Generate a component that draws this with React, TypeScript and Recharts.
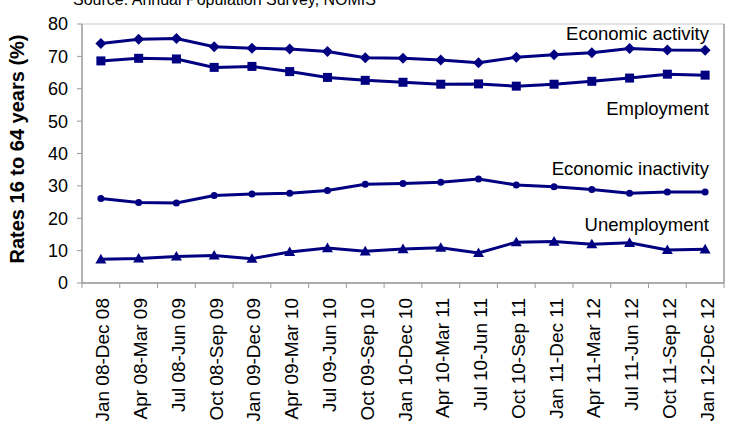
import React from 'react';
import { LineChart, Line, XAxis, YAxis, CartesianGrid } from 'recharts';

const categories = [
  'Jan 08-Dec 08', 'Apr 08-Mar 09', 'Jul 08-Jun 09', 'Oct 08-Sep 09', 'Jan 09-Dec 09',
  'Apr 09-Mar 10', 'Jul 09-Jun 10', 'Oct 09-Sep 10', 'Jan 10-Dec 10', 'Apr 10-Mar 11',
  'Jul 10-Jun 11', 'Oct 10-Sep 11', 'Jan 11-Dec 11', 'Apr 11-Mar 12', 'Jul 11-Jun 12',
  'Oct 11-Sep 12', 'Jan 12-Dec 12',
];
const activity = [74.0, 75.3, 75.5, 73.0, 72.5, 72.3, 71.5, 69.6, 69.4, 68.9, 68.0, 69.7, 70.5, 71.1, 72.4, 72.0, 71.9];
const employment = [68.6, 69.4, 69.2, 66.6, 66.9, 65.3, 63.5, 62.6, 62.0, 61.4, 61.5, 60.8, 61.4, 62.3, 63.3, 64.5, 64.2];
const inactivity = [26.1, 24.9, 24.7, 27.0, 27.5, 27.7, 28.6, 30.5, 30.7, 31.1, 32.1, 30.3, 29.7, 28.9, 27.7, 28.1, 28.1];
const unemployment = [7.3, 7.6, 8.2, 8.5, 7.5, 9.6, 10.8, 9.8, 10.5, 10.9, 9.3, 12.6, 12.8, 12.0, 12.4, 10.2, 10.4];
const yTicks = [0, 10, 20, 30, 40, 50, 60, 70, 80];

const data = categories.map((c, i) => ({
  cat: c,
  activity: activity[i],
  employment: employment[i],
  inactivity: inactivity[i],
  unemployment: unemployment[i],
}));

const NAVY = '#000080';
const AXIS = '#9a9a9a';
const GRID = '#c8c8c8';
const FONT = '"Liberation Sans", Arial, sans-serif';

const W = 731;
const H = 433;
const Y_AXIS_W = 82;
const R_AXIS_W = 7;
const BW = (W - Y_AXIS_W - R_AXIS_W) / categories.length;
const TICK_SIZE = 5;
const TICK_MARGIN = 10;

const Diamond = (p: any) => {
  const { cx, cy, index } = p;
  if (cx == null || cy == null) return <g key={index} />;
  const r = 5.5;
  return <path key={index} d={`M${cx},${cy - r}L${cx + r},${cy}L${cx},${cy + r}L${cx - r},${cy}Z`} fill={NAVY} />;
};
const Square = (p: any) => {
  const { cx, cy, index } = p;
  if (cx == null || cy == null) return <g key={index} />;
  const r = 4.5;
  return <rect key={index} x={cx - r} y={cy - r} width={2 * r} height={2 * r} fill={NAVY} />;
};
const Circle = (p: any) => {
  const { cx, cy, index } = p;
  if (cx == null || cy == null) return <g key={index} />;
  return <circle key={index} cx={cx} cy={cy} r={3.5} fill={NAVY} />;
};
const Triangle = (p: any) => {
  const { cx, cy, index } = p;
  if (cx == null || cy == null) return <g key={index} />;
  const r = 5.5;
  return <path key={index} d={`M${cx},${cy - r}L${cx + r},${cy + r * 0.75}L${cx - r},${cy + r * 0.75}Z`} fill={NAVY} />;
};

const XTick = (props: any) => {
  const { x, y, payload, index } = props;
  const axisY = y - TICK_SIZE - TICK_MARGIN;
  return (
    <g>
      {index === 0 && (
        <line x1={x - BW / 2} x2={x - BW / 2} y1={axisY} y2={axisY + TICK_SIZE} stroke={AXIS} />
      )}
      <line x1={x + BW / 2} x2={x + BW / 2} y1={axisY} y2={axisY + TICK_SIZE} stroke={AXIS} />
      <text
        x={x}
        y={y}
        dy="0.45em"
        transform={`rotate(-90, ${x}, ${y})`}
        textAnchor="end"
        fontSize={19}
        fontFamily={FONT}
        fill="#000"
      >
        {payload.value}
      </text>
    </g>
  );
};

const annStyle = { fontSize: 18.5, fontFamily: FONT, fill: '#000' } as const;

export default function App() {
  return (
    <div style={{ position: 'absolute', left: 0, top: 0, width: W, height: H, background: '#fff' }}>
      <LineChart width={W} height={H} data={data} margin={{ top: 24, right: 0, left: 0, bottom: 0 }}>
        <CartesianGrid horizontal vertical={false} stroke={GRID} strokeWidth={1.2} />
        <XAxis
          dataKey="cat"
          height={150}
          interval={0}
          padding={{ left: BW / 2, right: BW / 2 }}
          tickLine={false}
          tickSize={TICK_SIZE}
          tickMargin={TICK_MARGIN}
          axisLine={{ stroke: AXIS, strokeWidth: 1.5 }}
          tick={<XTick />}
        />
        <YAxis
          yAxisId="l"
          width={Y_AXIS_W}
          domain={[0, 80]}
          ticks={yTicks}
          interval={0}
          tickSize={5}
          tickMargin={9}
          tickLine={{ stroke: AXIS }}
          axisLine={{ stroke: AXIS, strokeWidth: 1.5 }}
          tick={{ fontSize: 18, fontFamily: FONT, fill: '#000' }}
        />
        <YAxis
          yAxisId="r"
          orientation="right"
          width={R_AXIS_W}
          domain={[0, 80]}
          tick={false}
          tickLine={false}
          axisLine={{ stroke: AXIS, strokeWidth: 1.5 }}
        />
        <Line yAxisId="l" dataKey="activity" stroke={NAVY} strokeWidth={3} dot={Diamond} activeDot={false} isAnimationActive={false} />
        <Line yAxisId="l" dataKey="employment" stroke={NAVY} strokeWidth={3} dot={Square} activeDot={false} isAnimationActive={false} />
        <Line yAxisId="l" dataKey="inactivity" stroke={NAVY} strokeWidth={3} dot={Circle} activeDot={false} isAnimationActive={false} />
        <Line yAxisId="l" dataKey="unemployment" stroke={NAVY} strokeWidth={3} dot={Triangle} activeDot={false} isAnimationActive={false} />
        <text x={73} y={5} fontSize={16} fontFamily={FONT} fill="#000">Source: Annual Population Survey, NOMIS</text>
        <text x={17} y={149} transform="rotate(-90, 17, 149)" textAnchor="middle" dominantBaseline="central" fontSize={20} fontWeight="bold" fontFamily={FONT} fill="#000">
          Rates 16 to 64 years (%)
        </text>
        <text x={709} y={40} textAnchor="end" {...annStyle}>Economic activity</text>
        <text x={709} y={115} textAnchor="end" {...annStyle}>Employment</text>
        <text x={709} y={175} textAnchor="end" {...annStyle}>Economic inactivity</text>
        <text x={709} y={231} textAnchor="end" {...annStyle}>Unemployment</text>
      </LineChart>
    </div>
  );
}
